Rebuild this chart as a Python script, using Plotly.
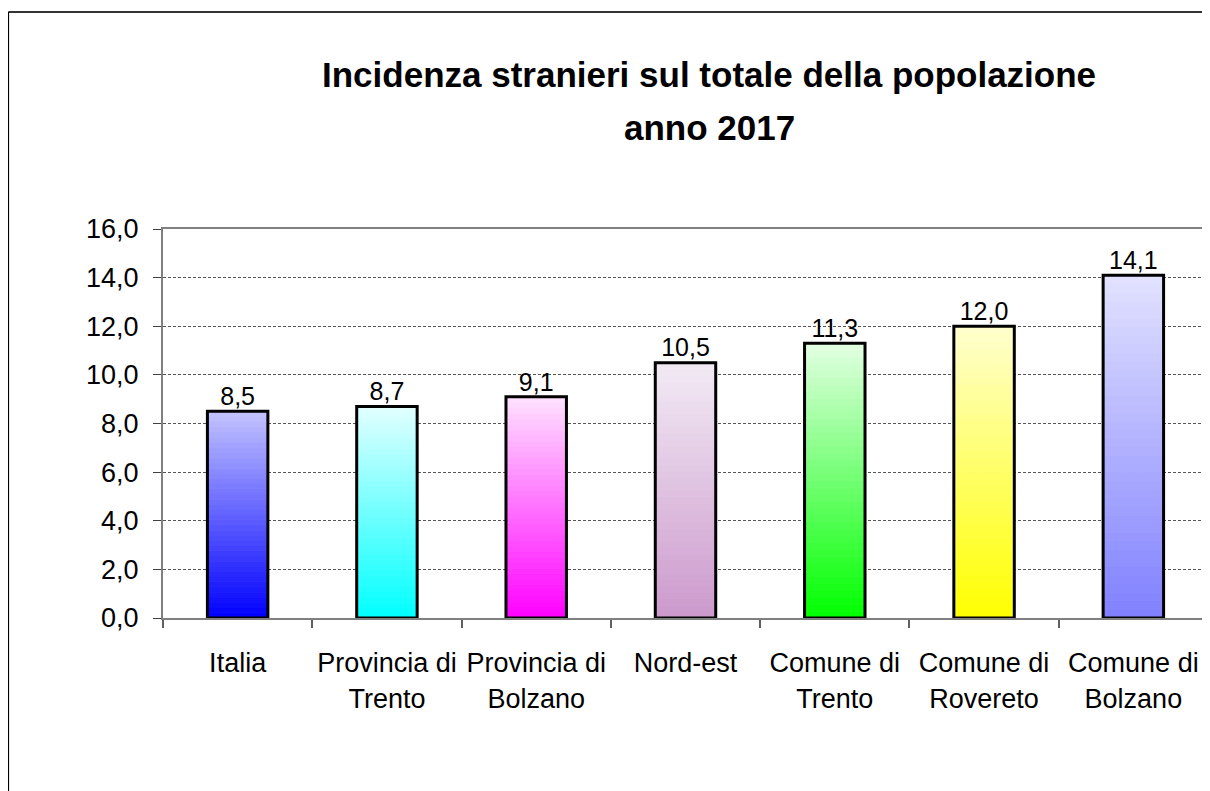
import plotly.graph_objects as go

categories = ["Italia", "Provincia di<br>Trento", "Provincia di<br>Bolzano", "Nord-est",
              "Comune di<br>Trento", "Comune di<br>Rovereto", "Comune di<br>Bolzano"]
values = [8.5, 8.7, 9.1, 10.5, 11.3, 12.0, 14.1]
y_ticks = [0, 2, 4, 6, 8, 10, 12, 14, 16]
title_lines = ["Incidenza stranieri sul totale della popolazione", "anno 2017"]

# gradient colours (bottom, top) per bar
bottom_colors = [(0, 0, 255), (0, 255, 255), (255, 0, 255), (204, 153, 204),
                 (0, 255, 0), (255, 255, 0), (128, 128, 255)]
top_colors = [(195, 195, 255), (226, 255, 255), (255, 226, 255), (242, 234, 245),
              (226, 255, 226), (255, 255, 206), (226, 226, 255)]

FONT = "Liberation Sans, Arial, sans-serif"
N = 40
BAR_W = 0.405

fig = go.Figure()

for k in range(N):
    t = (k + 0.5) / N
    cols = []
    for b, tp in zip(bottom_colors, top_colors):
        c = [round(b[i] + (tp[i] - b[i]) * t) for i in range(3)]
        cols.append(f"rgb({c[0]},{c[1]},{c[2]})")
    fig.add_trace(go.Bar(
        x=categories, y=[v / N for v in values], base=[v * k / N for v in values],
        width=BAR_W, marker=dict(color=cols, line=dict(width=1, color=cols)),
        showlegend=False, hoverinfo="skip"))

fig.add_trace(go.Bar(
    x=categories, y=values, width=BAR_W,
    marker=dict(color="rgba(0,0,0,0)", line=dict(color="black", width=3)),
    showlegend=False, hoverinfo="skip"))

fig.add_trace(go.Scatter(
    x=categories, y=values, mode="text", texttemplate="%{y:.1f}",
    textposition="top center", textfont=dict(family=FONT, size=25, color="black"),
    showlegend=False, hoverinfo="skip", cliponaxis=False))

# the page body adds an 8px offset; the figure size/margins compensate for it
fig.update_layout(
    width=1202, height=783,
    margin=dict(l=155, r=2, t=221, b=173),
    paper_bgcolor="white", plot_bgcolor="white",
    barmode="overlay", separators=",.",
    font=dict(family=FONT, size=27, color="black"),
    xaxis=dict(type="category", tickson="boundaries", ticks="outside", ticklen=8,
               tickcolor="#606060", tickwidth=2, tickangle=0, automargin=False,
               showline=True, linecolor="#808080", linewidth=2, mirror=True,
               showgrid=False, tickfont=dict(family=FONT, size=27),
               ticklabelstandoff=20),
    yaxis=dict(range=[0, 16], tickvals=y_ticks, tickformat=".1f", automargin=False,
               ticks="outside", ticklen=8, tickcolor="#404040", tickwidth=1,
               showline=True, linecolor="#808080", linewidth=2, mirror=True,
               showgrid=True, gridcolor="#555555", gridwidth=1, griddash="3px,2px",
               zeroline=False, tickfont=dict(family=FONT, size=27),
               ticklabelstandoff=9),
    shapes=[
        dict(type="line", xref="paper", yref="paper", x0=-0.148, x1=1.2,
             y0=1.5578, y1=1.5578, line=dict(color="#333333", width=2)),
        dict(type="line", xref="paper", yref="paper", x0=-0.148, x1=-0.148,
             y0=1.5578, y1=-0.6, line=dict(color="black", width=1.5)),
    ],
    annotations=[
        dict(text=f"<b>{title_lines[0]}</b>", xref="paper", yref="paper",
             x=0.5227, y=1.3959, xanchor="center", yanchor="middle", showarrow=False,
             font=dict(family=FONT, size=35, color="black")),
        dict(text=f"<b>{title_lines[1]}</b>", xref="paper", yref="paper",
             x=0.5227, y=1.2622, xanchor="center", yanchor="middle", showarrow=False,
             font=dict(family=FONT, size=35, color="black")),
    ],
)

fig.write_html("out.html")
